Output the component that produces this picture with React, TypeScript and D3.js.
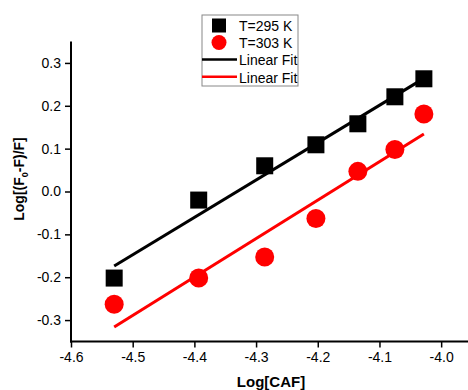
import * as d3 from 'd3';
import React, { useRef, useEffect } from 'react';

const logCAF = [-4.53, -4.393, -4.286, -4.203, -4.135, -4.075, -4.028];
const y295 = [-0.202, -0.02, 0.06, 0.109, 0.158, 0.221, 0.263];
const y303 = [-0.263, -0.202, -0.153, -0.063, 0.047, 0.098, 0.181];
const fitX = [-4.53, -4.028];
const fit295 = [-0.174, 0.264];
const fit303 = [-0.316, 0.134];
const xTicks = [-4.6, -4.5, -4.4, -4.3, -4.2, -4.1, -4.0];
const yTicks = [-0.3, -0.2, -0.1, 0.0, 0.1, 0.2, 0.3];
const legendLabels = ['T=295 K', 'T=303 K', 'Linear Fit', 'Linear Fit'];

const App: React.FC = () => {
  const svgRef = useRef<SVGSVGElement | null>(null);

  useEffect(() => {
    const width = 468;
    const height = 390;
    const font = '"Liberation Sans", Arial, sans-serif';

    const svg = d3.select(svgRef.current).attr('width', width).attr('height', height);
    svg.selectAll('*').remove();
    svg.append('rect').attr('width', width).attr('height', height).attr('fill', '#fff');

    const x = d3.scaleLinear().domain([-4.6, -3.95]).range([71, 472]);
    const y = d3.scaleLinear().domain([-0.35, 0.35]).range([341.5, 41.5]);

    // minor ticks
    const xMinor = d3.range(-4.55, -3.94, 0.1);
    const yMinor = d3.range(-0.35, 0.36, 0.1);

    const gx = svg.append('g').attr('transform', `translate(0, ${y(-0.35)})`);
    gx.call(d3.axisBottom(x).tickValues(xMinor).tickSize(4).tickFormat(() => ''));
    gx.call(
      d3.axisBottom(x).tickValues(xTicks).tickSize(6).tickPadding(5)
        .tickFormat(d3.format('.1f'))
    );
    gx.selectAll('.domain').remove();
    gx.append('line').attr('x1', x(-4.6) - 1).attr('x2', width).attr('stroke', '#000').attr('stroke-width', 2);

    const gy = svg.append('g').attr('transform', `translate(${x(-4.6)}, 0)`);
    gy.call(d3.axisLeft(y).tickValues(yMinor).tickSize(4).tickFormat(() => ''));
    gy.call(
      d3.axisLeft(y).tickValues(yTicks).tickSize(6).tickPadding(4)
        .tickFormat(d => d3.format('.1f')(d as number).replace('−', '-'))
    );
    gy.selectAll('.domain').remove();
    gy.append('line').attr('y1', y(-0.35) + 1).attr('y2', y(0.35)).attr('stroke', '#000').attr('stroke-width', 2);

    svg.selectAll('.tick line').attr('stroke', '#000').attr('stroke-width', 1.5);
    svg.selectAll('.tick text')
      .attr('font-family', font)
      .attr('font-size', 14)
      .attr('fill', '#000');
    gx.selectAll('.tick text').text(function () {
      return (d3.select(this).text() || '').replace('−', '-');
    });

    // fit lines
    const line = d3.line<number>().x((_, i) => x(fitX[i])).y(d => y(d));
    svg.append('path').attr('d', line(fit295)).attr('fill', 'none').attr('stroke', '#000').attr('stroke-width', 3);
    svg.append('path').attr('d', line(fit303)).attr('fill', 'none').attr('stroke', '#ff0000').attr('stroke-width', 3);

    // markers
    const sq = 17;
    svg.append('g').selectAll('rect').data(y295).enter().append('rect')
      .attr('x', (_, i) => x(logCAF[i]) - sq / 2)
      .attr('y', d => y(d) - sq / 2)
      .attr('width', sq).attr('height', sq).attr('fill', '#000');
    svg.append('g').selectAll('circle').data(y303).enter().append('circle')
      .attr('cx', (_, i) => x(logCAF[i]))
      .attr('cy', d => y(d))
      .attr('r', 9.5).attr('fill', '#ff0000');

    // legend
    const lg = svg.append('g');
    lg.append('rect').attr('x', 202).attr('y', 15).attr('width', 96).attr('height', 71)
      .attr('fill', '#fff').attr('stroke', '#888').attr('stroke-width', 1);
    const rowY = [25.5, 42.5, 59.5, 76.8];
    lg.append('rect').attr('x', 212).attr('y', rowY[0] - 7).attr('width', 14).attr('height', 14).attr('fill', '#000');
    lg.append('circle').attr('cx', 219).attr('cy', rowY[1]).attr('r', 7.5).attr('fill', '#ff0000');
    lg.append('line').attr('x1', 202).attr('x2', 237).attr('y1', rowY[2]).attr('y2', rowY[2]).attr('stroke', '#000').attr('stroke-width', 2.5);
    lg.append('line').attr('x1', 202).attr('x2', 237).attr('y1', rowY[3]).attr('y2', rowY[3]).attr('stroke', '#ff0000').attr('stroke-width', 2.5);
    lg.selectAll('text.lab').data(legendLabels).enter().append('text')
      .attr('x', 239).attr('y', (_, i) => rowY[i] + 5.8)
      .attr('font-family', font).attr('font-size', 14).attr('fill', '#000')
      .text(d => d);

    // axis titles
    svg.append('text').attr('x', 271).attr('y', 386.5).attr('text-anchor', 'middle')
      .attr('font-family', font).attr('font-size', 15).attr('font-weight', 'bold')
      .text('Log[CAF]');
    const yt = svg.append('text').attr('transform', 'translate(24, 179) rotate(-90)')
      .attr('text-anchor', 'middle')
      .attr('font-family', font).attr('font-size', 14).attr('font-weight', 'bold');
    yt.append('tspan').text('Log[(F');
    yt.append('tspan').attr('font-size', 9).attr('dy', 4).text('0');
    yt.append('tspan').attr('dy', -4).text('-F)/F]');
  }, []);

  return <svg ref={svgRef} style={{ position: 'absolute', left: 0, top: 0 }}></svg>;
};

export default App;
